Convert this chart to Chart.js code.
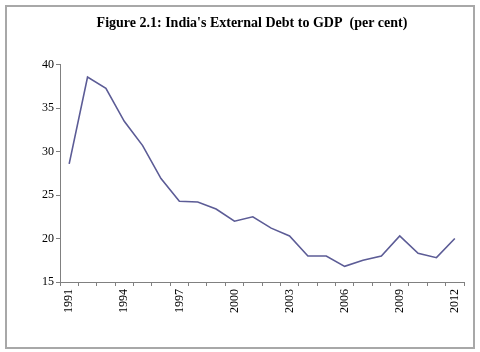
<!DOCTYPE html>
<html>
<head>
<meta charset="utf-8">
<script src="https://cdn.jsdelivr.net/npm/chart.js@4/dist/chart.umd.min.js"></script>
<style>
html,body{margin:0;padding:0;background:#fff;}
#wrap{position:relative;width:480px;height:352px;}
</style>
</head>
<body>
<div id="wrap"><canvas id="c" width="480" height="352"></canvas></div>
<script>
const years = ["1991","1992","1993","1994","1995","1996","1997","1998","1999","2000","2001","2002","2003","2004","2005","2006","2007","2008","2009","2010","2011","2012"];
const debtToGdp = [28.6,38.6,37.3,33.5,30.7,26.9,24.3,24.2,23.4,22.0,22.5,21.2,20.3,18.0,18.0,16.8,17.5,18.0,20.3,18.3,17.8,20.0];
const yTicks = [15,20,25,30,35,40];
const titleText = "Figure 2.1: India's External Debt to GDP  (per cent)";

const framePlugin = {
  id: 'frame',
  beforeDraw(chart) {
    const ctx = chart.ctx;
    ctx.save();
    ctx.fillStyle = '#ffffff';
    ctx.fillRect(0, 0, chart.width, chart.height);
    ctx.strokeStyle = '#a8a8a8';
    ctx.lineWidth = 2;
    ctx.strokeRect(6, 6, 468, 342);
    ctx.restore();
  }
};

new Chart(document.getElementById('c'), {
  type: 'line',
  data: {
    labels: years,
    datasets: [{
      data: debtToGdp,
      borderColor: '#5c5c96',
      borderWidth: 1.6,
      pointRadius: 0,
      tension: 0,
      fill: false
    }]
  },
  options: {
    responsive: false,
    animation: false,
    layout: { padding: { left: 40, right: 16, top: 15, bottom: 36 } },
    plugins: {
      legend: { display: false },
      tooltip: { enabled: false },
      title: {
        display: true,
        text: titleText,
        color: '#000',
        font: { family: 'Liberation Serif', size: 14, weight: 'bold' },
        padding: { top: 0, bottom: 33 }
      }
    },
    scales: {
      x: {
        type: 'category',
        offset: true,
        grid: { offset: true, drawOnChartArea: false, drawTicks: true, tickLength: 4, color: '#808080' },
        border: { display: true, color: '#808080', width: 1 },
        ticks: {
          autoSkip: false,
          minRotation: 90,
          maxRotation: 90,
          padding: 3,
          color: '#000',
          font: { family: 'Liberation Serif', size: 12 },
          callback: function(v, i) { return (i % 3 === 0) ? years[i] : ''; }
        }
      },
      y: {
        min: 15,
        max: 40,
        afterBuildTicks: function(axis) { axis.ticks = yTicks.map(v => ({ value: v })); },
        grid: { drawOnChartArea: false, drawTicks: true, tickLength: 4, color: '#808080' },
        border: { display: true, color: '#808080', width: 1 },
        ticks: {
          padding: 2,
          color: '#000',
          font: { family: 'Liberation Serif', size: 12 }
        }
      }
    }
  },
  plugins: [framePlugin]
});
</script>
</body>
</html>
